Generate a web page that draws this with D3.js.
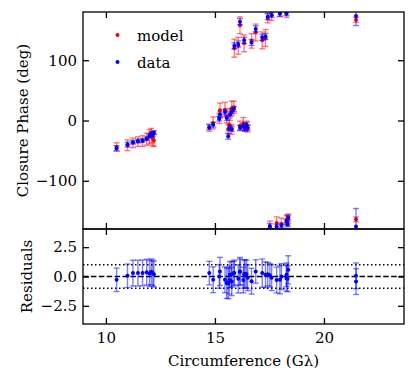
<!DOCTYPE html>
<html><head><meta charset="utf-8">
<script src="https://cdn.jsdelivr.net/npm/d3@7"></script>
<style>body{margin:0;background:#fff}svg{display:block}</style>
</head><body><svg id="c" width="416" height="382"></svg>
<script>
// ---- data ----
const circumference = [10.49,10.99,11.24,11.47,11.68,11.87,12.00,12.08,12.15,12.20,
  14.74,14.92,15.20,15.23,15.46,15.54,15.69,15.77,15.87,15.66,15.77,15.61,16.15,16.30,16.45,16.50,16.38,
  15.89,16.07,16.15,16.34,16.68,16.87,17.17,17.32,17.42,17.60,17.98,18.28,
  17.52,17.83,18.05,18.28,18.36,18.33,
  21.47,21.47];
const dataPhase = [-46,-40,-36,-34,-33,-30,-25,-22,-24,-20,
  -11,-7,3,10,14,4,10,15,19,-12,-14,-26,-12,-9,-7,-12,-14,
  124,127,164,133,129.5,152,138,139.5,172,175,177,178,
  -175,-176,-174,-168,-161,-172,
  173.5,-176];
const dataErr = [4,4,3,3,3,3,3,3,3,3,
  4,4,4,4,4,4,4,4,4,4,4,5,4,4,4,4,4,
  5,5,5,5,5,5,5,5,5,4,4,4,
  4,4,4,4,4,4,
  16,30];
const modelPhase = [-44,-41,-37,-35,-34,-31,-27,-25,-30,-33,
  -12,-4,3,17,18,6,10,20,22,-7,-15,-14,-9,-5,-9,-13,-11,
  120,124,158,128,132,146,133,137,170,174,178,177,
  -177,-170,-172,-165,-163,-167,
  167,-164];
const modelErr = [7,9,8,8,9,10,12,12,12,10,
  6,10,8,12,12,10,10,12,10,10,8,8,8,10,8,6,6,
  15,14,14,14,12,14,14,14,8,8,6,6,
  10,10,10,8,8,8,
  4,4];
const residual = [-0.28,0.06,0.29,0.29,0.30,0.37,0.25,0.40,0.30,0.20,
  0.29,-0.28,0.00,0.43,-0.28,-0.56,0.15,-0.43,0.29,-0.30,0.20,-0.60,0.43,-0.30,0.20,-0.10,0.23,
  0.30,-0.20,0.40,0.20,-0.40,0.43,0.29,0.15,0.20,-0.10,-0.28,-0.14,
  0.10,-0.30,0.00,0.15,0.57,-0.20,
  0.06,-0.43];
const residualErr = [1.0,1.0,1.1,1.1,1.1,1.1,1.1,1.1,1.1,1.1,
  1.0,1.1,1.0,1.2,1.1,1.3,1.1,1.2,1.0,1.2,1.1,1.3,1.2,1.1,1.2,1.1,1.2,
  1.1,1.2,1.1,1.2,1.1,1.0,1.2,1.1,1.0,1.1,1.2,1.1,
  1.0,1.1,1.1,1.0,1.2,1.1,
  1.1,1.1];
const xTicks = [10,15,20];
const phaseTicks = [-100,0,100];
const residualTicks = [-2.5,0,2.5];
const legendLabels = ["model","data"];
// ---- layout ----
const FONT = "'DejaVu Serif', 'Liberation Serif', serif";
const FS = 15;
const svg = d3.select("#c");
const L=83,R=404,T=12,M=229,B=324;
const x = d3.scaleLinear().domain([8.95,23.67]).range([L,R]);
const yP = d3.scaleLinear().domain([-180,180]).range([M,T]);
const yR = d3.scaleLinear().domain([-4.05,4.05]).range([B,M]);
const fmtMinus = s => s.replace("-","\u2212");

svg.append("defs").html(`<clipPath id="cp1"><rect x="${L}" y="${T}" width="${R-L}" height="${M-T}"/></clipPath>
<clipPath id="cp2"><rect x="${L}" y="${M}" width="${R-L}" height="${B-M}"/></clipPath>`);

const pts = circumference.map((c,i)=>({c,d:dataPhase[i],de:dataErr[i],m:modelPhase[i],me:modelErr[i],r:residual[i],re:residualErr[i]}));

function errbars(g, y, key, ekey, color){
  const grp = g.append("g").attr("stroke",color).attr("stroke-opacity",0.5).attr("stroke-width",1.4).attr("fill","none");
  pts.forEach(p=>{
    const cx = x(p.c), y1 = y(p[key]-p[ekey]), y2 = y(p[key]+p[ekey]);
    grp.append("line").attr("x1",cx).attr("x2",cx).attr("y1",y1).attr("y2",y2);
    grp.append("line").attr("x1",cx-3).attr("x2",cx+3).attr("y1",y1).attr("y2",y1);
    grp.append("line").attr("x1",cx-3).attr("x2",cx+3).attr("y1",y2).attr("y2",y2);
  });
  g.append("g").selectAll("circle").data(pts).join("circle")
    .attr("cx",p=>x(p.c)).attr("cy",p=>y(p[key])).attr("r",2).attr("fill",color);
}

const g1 = svg.append("g").attr("clip-path","url(#cp1)");
errbars(g1, yP, "m", "me", "#ff0000");
errbars(g1, yP, "d", "de", "#0000ff");

const g2 = svg.append("g").attr("clip-path","url(#cp2)");
[-1,1].forEach(v=>g2.append("line").attr("x1",L).attr("x2",R).attr("y1",yR(v)).attr("y2",yR(v))
  .attr("stroke","#000").attr("stroke-width",1.5).attr("stroke-dasharray","1.5,2.5"));
g2.append("line").attr("x1",L).attr("x2",R).attr("y1",yR(0)).attr("y2",yR(0))
  .attr("stroke","#000").attr("stroke-width",1.5).attr("stroke-dasharray","5.5,2.4");
errbars(g2, yR, "r", "re", "#0000ff");

// axes
function styleAxis(g){
  g.select(".domain").remove();
  g.attr("font-family",null).attr("font-size",null);
  g.selectAll(".tick line").attr("stroke","#000").attr("stroke-width",1.3);
  g.selectAll(".tick text").style("font-family",FONT).style("font-size",FS+"px").attr("fill","#000");
}
svg.append("g").attr("transform",`translate(${L},0)`)
  .call(d3.axisLeft(yP).tickValues(phaseTicks).tickSize(-6).tickPadding(6).tickFormat(d=>fmtMinus(d3.format("d")(d)))).call(styleAxis);
svg.append("g").attr("transform",`translate(${R},0)`)
  .call(d3.axisRight(yP).tickValues(phaseTicks).tickSize(-6).tickFormat("")).call(styleAxis);
svg.append("g").attr("transform",`translate(0,${T})`)
  .call(d3.axisTop(x).tickValues(xTicks).tickSize(-6).tickFormat("")).call(styleAxis);
svg.append("g").attr("transform",`translate(0,${M})`)
  .call(d3.axisBottom(x).tickValues(xTicks).tickSize(-6).tickFormat("")).call(styleAxis);
svg.append("g").attr("transform",`translate(0,${M})`)
  .call(d3.axisTop(x).tickValues(xTicks).tickSize(-6).tickFormat("")).call(styleAxis);
svg.append("g").attr("transform",`translate(${L},0)`)
  .call(d3.axisLeft(yR).tickValues(residualTicks).tickSize(-6).tickPadding(6).tickFormat(d=>fmtMinus(d3.format(".1f")(d)))).call(styleAxis);
svg.append("g").attr("transform",`translate(${R},0)`)
  .call(d3.axisRight(yR).tickValues(residualTicks).tickSize(-6).tickFormat("")).call(styleAxis);
svg.append("g").attr("transform",`translate(0,${B})`)
  .call(d3.axisBottom(x).tickValues(xTicks).tickSize(-6).tickPadding(8).tickFormat(d3.format("d"))).call(styleAxis);

// frames
[[T,M],[M,B]].forEach(([a,b])=>svg.append("rect").attr("x",L).attr("y",a).attr("width",R-L).attr("height",b-a)
  .attr("fill","none").attr("stroke","#000").attr("stroke-width",1.3));

// labels
function txt(sel){ return sel.style("font-family",FONT).style("font-size",FS+"px").attr("fill","#000"); }
txt(svg.append("text").attr("x",(L+R)/2).attr("y",366).attr("text-anchor","middle")).text("Circumference (G\u03bb)");
txt(svg.append("text").attr("transform",`translate(28,${(T+M)/2}) rotate(-90)`).attr("text-anchor","middle")).text("Closure Phase (deg)");
txt(svg.append("text").attr("transform",`translate(32,${(M+B)/2}) rotate(-90)`).attr("text-anchor","middle")).text("Residuals");

// legend
const lg = svg.append("g");
legendLabels.forEach((t,i)=>{
  const cy = 35 + i*27;
  lg.append("circle").attr("cx",117.5).attr("cy",cy).attr("r",2).attr("fill",i===0?"#ff0000":"#0000ff");
  txt(lg.append("text").attr("x",137).attr("y",cy+6)).text(t);
});
</script></body></html>
